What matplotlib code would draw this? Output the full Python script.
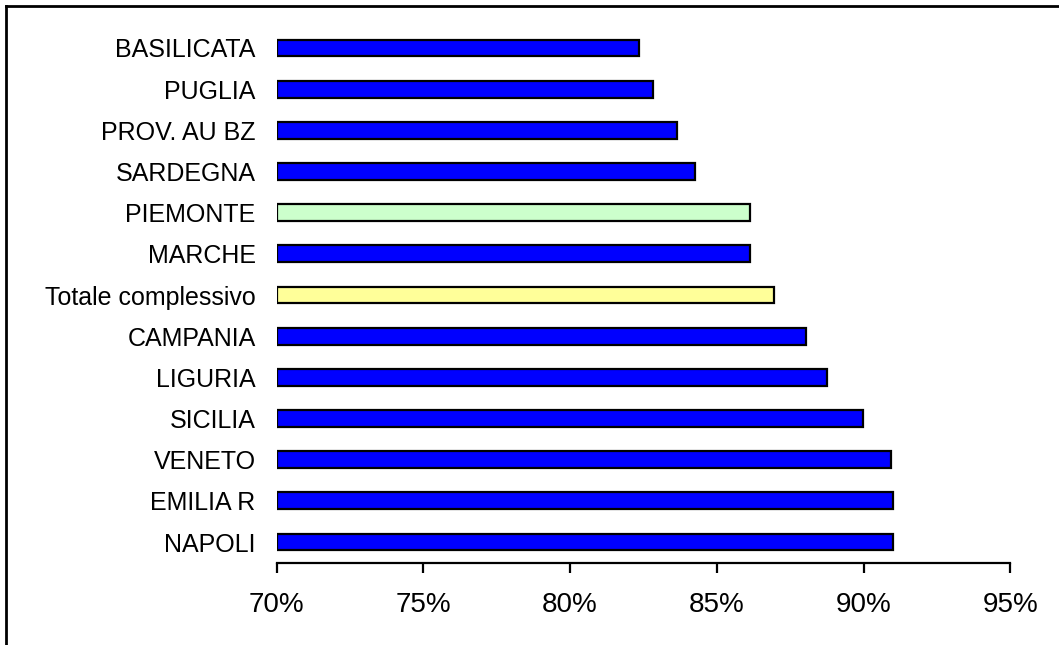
import matplotlib.pyplot as plt
from matplotlib.lines import Line2D
from matplotlib.ticker import FuncFormatter

# regions listed bottom to top
regions = ["NAPOLI", "EMILIA R", "VENETO", "SICILIA", "LIGURIA", "CAMPANIA",
           "Totale complessivo", "MARCHE", "PIEMONTE", "SARDEGNA",
           "PROV. AU BZ", "PUGLIA", "BASILICATA"]
values = [90.99, 90.99, 90.92, 89.97, 88.75, 88.03,
          86.94, 86.13, 86.13, 84.24, 83.64, 82.82, 82.35]
colors = ["#0000FF"] * 6 + ["#FFFF99", "#0000FF", "#CCFFCC"] + ["#0000FF"] * 4

plt.rcParams["font.family"] = ["Liberation Sans", "DejaVu Sans"]

fig = plt.figure(figsize=(10.59, 6.45), dpi=100)
ax = fig.add_axes([0.2611, 0.1277, 0.6931, 0.8298])

pos = range(len(regions))
ax.barh(pos, [v - 70 for v in values], left=70, height=0.41,
        color=colors, edgecolor="black", linewidth=1.6)

ax.set_xlim(70, 95)
ax.set_ylim(-0.5, len(regions) - 0.5)
ax.set_xticks([70, 75, 80, 85, 90, 95])
ax.xaxis.set_major_formatter(FuncFormatter(lambda v, p: f"{v:.0f}%"))
ax.set_yticks(list(pos))
ax.set_yticklabels(regions)

for side in ["top", "right", "left"]:
    ax.spines[side].set_visible(False)
ax.spines["bottom"].set_linewidth(1.6)
ax.tick_params(axis="x", length=7, width=1.6, labelsize=20, pad=14)
ax.tick_params(axis="y", length=0, labelsize=18, pad=15)

# frame lines along top and left edge of the figure
fig.add_artist(Line2D([6 / 1059, 1], [1 - 6 / 645] * 2, color="black", lw=2,
                      transform=fig.transFigure))
fig.add_artist(Line2D([6 / 1059] * 2, [0, 1 - 6 / 645], color="black", lw=2,
                      transform=fig.transFigure))

fig.savefig("out.png", dpi=100)
